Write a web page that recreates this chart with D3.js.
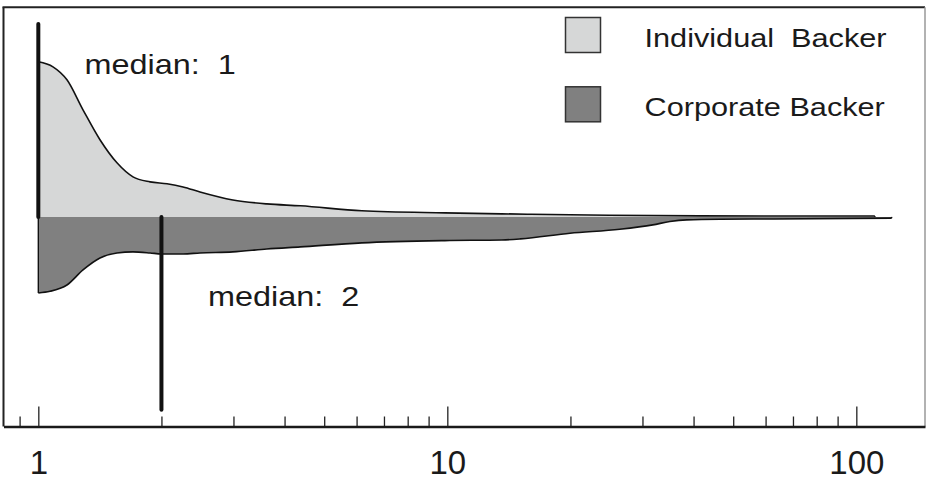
<!DOCTYPE html>
<html lang="en">
<head>
    <meta charset="utf-8">
    <title>Backer count density</title>
    <script src="https://d3js.org/d3.v7.min.js"></script>
    <style>
        body {
            margin: 0;
            padding: 0;
            background: #fff;
        }
        svg text {
            font-family: "Liberation Sans", Arial, sans-serif;
            fill: #1a1a1a;
            white-space: pre;
        }
    </style>
</head>
<body>
    <svg id="chart" width="926" height="481"></svg>

    <script>
        // density curves (x on log axis, half-height of violin)
        const indivX = [1, 1.086, 1.175, 1.286, 1.415, 1.557, 1.704, 1.876, 2.064, 2.259, 2.485, 2.99, 3.62, 4.37, 6.18, 9.86, 15.7, 24.9, 41.5, 72.8, 111];
        const indivDensity = [0.74, 0.716, 0.654, 0.511, 0.368, 0.258, 0.191, 0.167, 0.158, 0.143, 0.119, 0.081, 0.062, 0.053, 0.029, 0.019, 0.013, 0.008, 0.005, 0.004, 0.004];

        const corpX = [1, 1.068, 1.175, 1.286, 1.415, 1.557, 1.704, 1.876, 2.0, 2.259, 2.485, 2.99, 3.62, 4.37, 6.18, 9.86, 13.6, 15.1, 19.95, 26.4, 31.8, 35.0, 38.5, 46.4, 62.9, 122];
        const corpDensity = [0.363, 0.355, 0.325, 0.253, 0.196, 0.172, 0.167, 0.172, 0.177, 0.177, 0.172, 0.167, 0.153, 0.143, 0.124, 0.113, 0.110, 0.105, 0.078, 0.059, 0.038, 0.022, 0.014, 0.011, 0.010, 0.006];

        const medians = [1, 2];
        const medianLabels = ["median:  1", "median:  2"];
        const medianLength = 0.92;

        const seriesNames = ["Individual  Backer", "Corporate Backer"];
        const seriesColors = ["#d6d7d7", "#808080"];

        const majorTicks = [1, 10, 100];
        const minorTicks = [0.9, 2, 3, 4, 5, 6, 7, 8, 9, 20, 30, 40, 50, 60, 70, 80, 90];

        const svg = d3.select("#chart");
        const plotLeft = 3.5, plotRight = 925, plotTop = 7.3, plotBottom = 426.5;

        const x = d3.scaleLog().domain([0.822, 147.2]).range([plotLeft, plotRight]);
        const y = d3.scaleLinear().domain([-1, 1]).range([plotBottom, plotTop]);

        const indiv = indivX.map((v, i) => ({x: v, d: indivDensity[i]}));
        const corp = corpX.map((v, i) => ({x: v, d: -corpDensity[i]}));

        const area = d3.area()
            .x(p => x(p.x))
            .y0(y(0))
            .y1(p => y(p.d))
            .curve(d3.curveMonotoneX);

        const line = d3.line()
            .x(p => x(p.x))
            .y(p => y(p.d))
            .curve(d3.curveMonotoneX);

        // fills
        [indiv, corp].forEach((s, i) => {
            svg.append("path")
                .datum(s)
                .attr("d", area)
                .attr("fill", seriesColors[i]);
        });

        // outlines
        [indiv, corp].forEach(s => {
            svg.append("path")
                .datum(s)
                .attr("d", line)
                .attr("fill", "none")
                .attr("stroke", "#111")
                .attr("stroke-width", 1.6);

            // end edges down to the centre line
            const first = s[0], last = s[s.length - 1];
            [first, last].forEach(p => {
                svg.append("line")
                    .attr("x1", x(p.x)).attr("x2", x(p.x))
                    .attr("y1", y(0)).attr("y2", y(p.d))
                    .attr("stroke", "#111")
                    .attr("stroke-width", 1.4);
            });
        });

        // medians
        medians.forEach((m, i) => {
            const sign = i === 0 ? 1 : -1;
            svg.append("line")
                .attr("x1", x(m)).attr("x2", x(m))
                .attr("y1", y(0)).attr("y2", y(sign * medianLength))
                .attr("stroke", "#111")
                .attr("stroke-width", 4)
                .attr("stroke-linecap", "round");
        });

        const labelPos = [[84.5, 74], [208, 306]];
        medianLabels.forEach((t, i) => {
            svg.append("text")
                .attr("transform", `translate(${labelPos[i][0]},${labelPos[i][1]}) scale(1.2,1)`)
                .style("font-size", "27px")
                .text(t);
        });

        // frame
        svg.append("line")
            .attr("x1", plotLeft).attr("x2", plotLeft).attr("y1", plotTop).attr("y2", plotBottom)
            .attr("stroke", "#222").attr("stroke-width", 2);
        svg.append("line")
            .attr("x1", plotLeft - 1).attr("x2", plotRight).attr("y1", plotTop).attr("y2", plotTop)
            .attr("stroke", "#222").attr("stroke-width", 2);
        svg.append("line")
            .attr("x1", plotRight).attr("x2", plotRight).attr("y1", plotTop).attr("y2", plotBottom)
            .attr("stroke", "#999").attr("stroke-width", 1.5);

        // axis: ticks point upward into the plot
        const minorAxis = d3.axisBottom(x)
            .tickValues(minorTicks)
            .tickSizeInner(-10)
            .tickSizeOuter(0)
            .tickFormat("");

        const majorAxis = d3.axisBottom(x)
            .tickValues(majorTicks)
            .tickSizeInner(-20)
            .tickSizeOuter(0)
            .tickPadding(24)
            .tickFormat(d3.format("d"));

        const gMinor = svg.append("g")
            .attr("transform", `translate(0,${plotBottom})`)
            .call(minorAxis);
        gMinor.select(".domain").remove();
        gMinor.selectAll(".tick line").attr("stroke", "#222").attr("stroke-width", 1.3);

        const gMajor = svg.append("g")
            .attr("transform", `translate(0,${plotBottom})`)
            .call(majorAxis);
        gMajor.select(".domain").attr("stroke", "#1a1a1a").attr("stroke-width", 2.6);
        gMajor.selectAll(".tick line").attr("stroke", "#222").attr("stroke-width", 1.3);
        gMajor.selectAll(".tick text")
            .attr("font-family", null)
            .attr("fill", null)
            .style("font-size", "33px");

        // legend
        const legend = svg.append("g").attr("transform", "translate(565.5,17.5)");
        seriesNames.forEach((name, i) => {
            const row = legend.append("g").attr("transform", `translate(0,${i * 69.3})`);
            row.append("rect")
                .attr("width", 35).attr("height", 35)
                .attr("fill", seriesColors[i])
                .attr("stroke", "#333")
                .attr("stroke-width", 1.5);
            row.append("text")
                .attr("transform", "translate(79,29.3) scale(1.18,1)")
                .style("font-size", "26px")
                .text(name);
        });
    </script>
</body>
</html>
